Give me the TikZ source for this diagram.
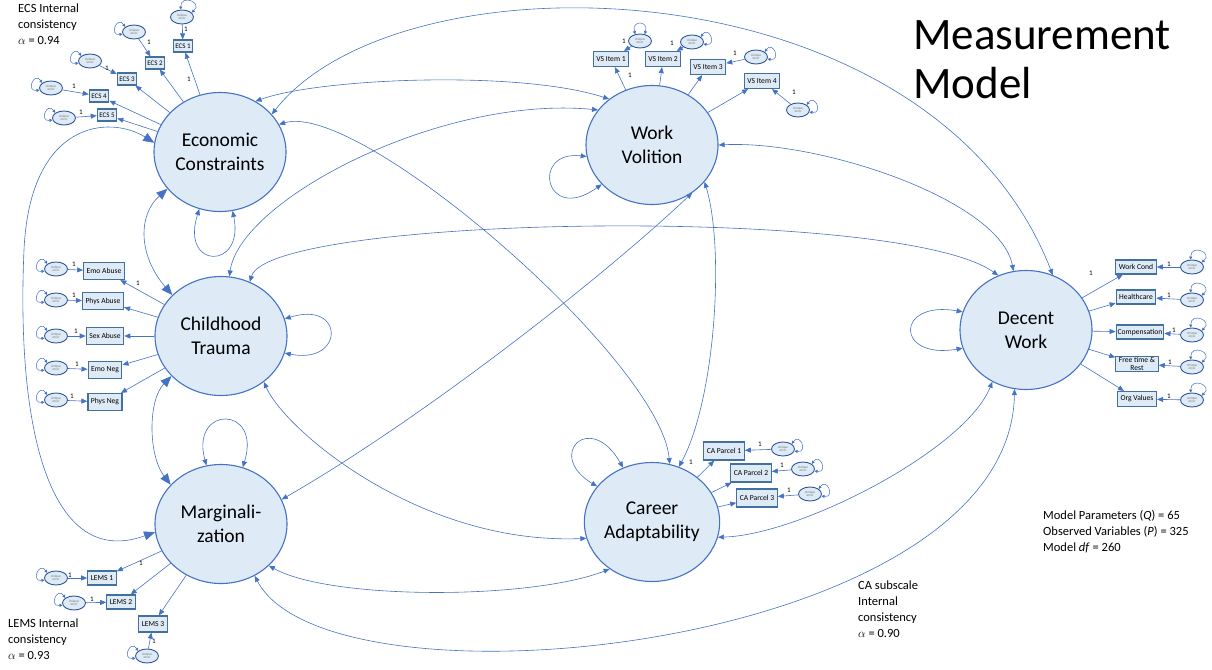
\documentclass[tikz,border=0pt]{standalone}
\usepackage{fontspec}
\setmainfont{Carlito}
\usetikzlibrary{arrows.meta,shapes.geometric}
\definecolor{lineblue}{HTML}{4472C4}
\definecolor{fillblue}{HTML}{DEEBF7}
\definecolor{boxblue}{HTML}{41719C}
\definecolor{errblue}{HTML}{2F5597}
\tikzset{
  latent/.style={ellipse, draw=lineblue, line width=1.1pt, fill=fillblue, minimum width=132pt, minimum height=119pt, inner sep=0pt, align=center, font=\fontsize{19.5}{24}\selectfont},
  ind/.style={rectangle, draw=boxblue, line width=1.2pt, fill=fillblue, minimum height=15pt, inner xsep=3pt, inner ysep=1pt, align=center, font=\fontsize{7.6}{8.4}\selectfont},
  ecsbox/.style={ind, minimum height=12pt, inner xsep=2pt, font=\fontsize{7}{8}\selectfont},
  err/.style={ellipse, draw=errblue, line width=0.9pt, fill=fillblue, minimum width=23pt, minimum height=14pt, inner sep=0pt, align=center, text=black!55, font=\fontsize{3.4}{3.6}\selectfont},
  load/.style={-{Triangle[length=6pt,width=5pt]}, lineblue, line width=0.6pt},
  cov/.style={{Triangle[length=6pt,width=5pt]}-{Triangle[length=6pt,width=5pt]}, lineblue, line width=0.6pt},
  bigcov/.style={{Triangle[length=11pt,width=9pt]}-{Triangle[length=11pt,width=9pt]}, lineblue, line width=0.6pt},
  eloop/.style={{Triangle[length=3pt,width=3pt]}-{Triangle[length=3pt,width=3pt]}, lineblue, line width=0.5pt},
  one/.style={inner sep=0pt, font=\fontsize{7}{7}\selectfont},
  note/.style={anchor=north west, align=left, inner sep=0pt, font=\fontsize{12.5}{16}\selectfont},
  headline/.style={anchor=base west, inner sep=0pt, font=\fontsize{45}{48}\selectfont}
}
\begin{document}
\begin{tikzpicture}[x=1pt,y=-1pt]
\useasboundingbox (0,0) rectangle (1212,669);

% latent factors
\node[latent] (EC) at (220,152) {Economic\\Constraints};
\node[latent] (WV) at (652,145) {Work\\Volition};
\node[latent] (CT) at (221,336) {Childhood\\Trauma};
\node[latent] (MG) at (221,524) {Marginali-\\zation};
\node[latent] (CA) at (652,522) {Career\\Adaptability};
\node[latent] (DW) at (1026,330) {Decent\\Work};

% ECS indicators
\node[ecsbox] (ecs1) at (183,46) {ECS 1};
\node[ecsbox] (ecs2) at (155,63) {ECS 2};
\node[ecsbox] (ecs3) at (127,79) {ECS 3};
\node[ecsbox] (ecs4) at (99,96) {ECS 4};
\node[ecsbox] (ecs5) at (107,115) {ECS 5};
\node[err] (eecs1) at (182,17) {Unique\\error};
\node[err] (eecs2) at (134,32) {Unique\\error};
\node[err] (eecs3) at (90,61) {Unique\\error};
\node[err] (eecs4) at (51,88) {Unique\\error};
\node[err] (eecs5) at (64,118) {Unique\\error};
\draw[load] (EC) -- (ecs1);
\draw[load] (EC) -- (ecs2);
\draw[load] (EC) -- (ecs3);
\draw[load] (EC) -- (ecs4);
\draw[load] (EC) -- (ecs5);
\draw[load] (eecs1) -- (ecs1);
\draw[load] (eecs2) -- (ecs2);
\draw[load] (eecs3) -- (ecs3);
\draw[load] (eecs4) -- (ecs4);
\draw[load] (eecs5) -- (ecs5);
\draw[eloop] (eecs1.100) .. controls +(0,-16) and +(12,-10) .. (eecs1.25);
\draw[eloop] (eecs2.150) .. controls +(-8,-12) and +(-14,2) .. (eecs2.190);
\draw[eloop] (eecs3.150) .. controls +(-8,-12) and +(-14,2) .. (eecs3.190);
\draw[eloop] (eecs4.150) .. controls +(-8,-12) and +(-14,2) .. (eecs4.190);
\draw[eloop] (eecs5.150) .. controls +(-8,-12) and +(-14,2) .. (eecs5.190);
\node[one] (oecs0) at (189,79) {1};
\node[one] (oecs1) at (186,29) {1};
\node[one] (oecs2) at (149,42) {1};
\node[one] (oecs3) at (107,68) {1};
\node[one] (oecs4) at (74,86) {1};
\node[one] (oecs5) at (81,112) {1};

% childhood trauma indicators
\node[ind, minimum height=17pt] (emoab) at (104,271) {Emo Abuse};
\node[ind, minimum height=17pt] (physab) at (103,301) {Phys Abuse};
\node[ind, minimum height=17pt] (sexab) at (105,336) {Sex Abuse};
\node[ind, minimum height=17pt] (emoneg) at (105,370) {Emo Neg};
\node[ind, minimum height=17pt] (physneg) at (105,402) {Phys Neg};
\node[err] (eemoab) at (56,269) {Unique\\error};
\node[err] (ephysab) at (56,300) {Unique\\error};
\node[err] (esexab) at (56,336) {Unique\\error};
\node[err] (eemoneg) at (56,368) {Unique\\error};
\node[err] (ephysneg) at (56,400) {Unique\\error};
\draw[load] (CT) -- (emoab);
\draw[load] (CT) -- (physab);
\draw[load] (CT) -- (sexab);
\draw[load] (CT) -- (emoneg);
\draw[load] (CT) -- (physneg);
\draw[load] (eemoab) -- (emoab);
\draw[load] (ephysab) -- (physab);
\draw[load] (esexab) -- (sexab);
\draw[load] (eemoneg) -- (emoneg);
\draw[load] (ephysneg) -- (physneg);
\draw[eloop] (eemoab.150) .. controls +(-8,-12) and +(-14,2) .. (eemoab.190);
\draw[eloop] (ephysab.150) .. controls +(-8,-12) and +(-14,2) .. (ephysab.190);
\draw[eloop] (esexab.150) .. controls +(-8,-12) and +(-14,2) .. (esexab.190);
\draw[eloop] (eemoneg.150) .. controls +(-8,-12) and +(-14,2) .. (eemoneg.190);
\draw[eloop] (ephysneg.150) .. controls +(-8,-12) and +(-14,2) .. (ephysneg.190);
\node[one] (oct0) at (138,283) {1};
\node[one] (oct1) at (74,264) {1};
\node[one] (oct2) at (74,295) {1};
\node[one] (oct3) at (76,331) {1};
\node[one] (oct4) at (77,364) {1};
\node[one] (oct5) at (72,396) {1};

% work volition indicators
\node[ind] (vs1) at (611,59) {VS Item 1};
\node[ind] (vs2) at (663,59) {VS Item 2};
\node[ind] (vs3) at (708,67) {VS Item 3};
\node[ind] (vs4) at (762,81) {VS Item 4};
\node[err] (evs1) at (640,41) {Unique\\error};
\node[err] (evs2) at (692,42) {Unique\\error};
\node[err] (evs3) at (756,57) {Unique\\error};
\node[err] (evs4) at (798,110) {Unique\\error};
\draw[load] (WV) -- (vs1);
\draw[load] (WV) -- (vs2);
\draw[load] (WV) -- (vs3);
\draw[load] (WV) -- (vs4);
\draw[load] (evs1) -- (vs1);
\draw[load] (evs2) -- (vs2);
\draw[load] (evs3) -- (vs3);
\draw[load] (evs4) -- (vs4);
\draw[eloop] (evs1.125) .. controls +(-4,-14) and +(4,-14) .. (evs1.55);
\draw[eloop] (evs2.30) .. controls +(8,-12) and +(14,2) .. (evs2.-10);
\draw[eloop] (evs3.30) .. controls +(8,-12) and +(14,2) .. (evs3.-10);
\draw[eloop] (evs4.30) .. controls +(8,-12) and +(14,2) .. (evs4.-10);
\node[one] (ovs0) at (630,75) {1};
\node[one] (ovs1) at (624,41) {1};
\node[one] (ovs2) at (672,43) {1};
\node[one] (ovs3) at (735,53) {1};
\node[one] (ovs4) at (794,92) {1};

% decent work indicators
\node[ind, minimum height=14pt] (wcond) at (1136,267) {Work Cond};
\node[ind, minimum height=14pt] (hcare) at (1136,297) {Healthcare};
\node[ind, minimum height=14pt, inner xsep=1.5pt] (comp) at (1140,332) {Compensation};
\node[ind] (ftime) at (1137,364) {Free time \&\\Rest};
\node[ind] (orgval) at (1137,399) {Org Values};
\node[err] (ewcond) at (1192,267) {Unique\\error};
\node[err] (ehcare) at (1192,300) {Unique\\error};
\node[err] (ecomp) at (1192,335) {Unique\\error};
\node[err] (eftime) at (1192,367) {Unique\\error};
\node[err] (eorgval) at (1192,400) {Unique\\error};
\draw[load] (DW) -- (wcond);
\draw[load] (DW) -- (hcare);
\draw[load] (DW) -- (comp);
\draw[load] (DW) -- (ftime);
\draw[load] (DW) -- (orgval);
\draw[load] (ewcond) -- (wcond);
\draw[load] (ehcare) -- (hcare);
\draw[load] (ecomp) -- (comp);
\draw[load] (eftime) -- (ftime);
\draw[load] (eorgval) -- (orgval);
\draw[eloop] (ewcond.100) .. controls +(0,-16) and +(12,-10) .. (ewcond.25);
\draw[eloop] (ehcare.100) .. controls +(0,-16) and +(12,-10) .. (ehcare.25);
\draw[eloop] (ecomp.100) .. controls +(0,-16) and +(12,-10) .. (ecomp.25);
\draw[eloop] (eftime.100) .. controls +(0,-16) and +(12,-10) .. (eftime.25);
\draw[eloop] (eorgval.100) .. controls +(0,-16) and +(12,-10) .. (eorgval.25);
\node[one] (odw0) at (1091,273) {1};
\node[one] (odw1) at (1169,264) {1};
\node[one] (odw2) at (1169,295) {1};
\node[one] (odw3) at (1174,330) {1};
\node[one] (odw4) at (1170,362) {1};
\node[one] (odw5) at (1169,396) {1};

% career adaptability indicators
\node[ind, minimum height=18pt] (cap1) at (724,451) {CA Parcel 1};
\node[ind, minimum height=18pt] (cap2) at (751,473) {CA Parcel 2};
\node[ind, minimum height=18pt] (cap3) at (757,498) {CA Parcel 3};
\node[err] (ecap1) at (783,449) {Unique\\error};
\node[err] (ecap2) at (803,469) {Unique\\error};
\node[err] (ecap3) at (810,494) {Unique\\error};
\draw[load] (CA) -- (cap1);
\draw[load] (CA) -- (cap2);
\draw[load] (CA) -- (cap3);
\draw[load] (ecap1) -- (cap1);
\draw[load] (ecap2) -- (cap2);
\draw[load] (ecap3) -- (cap3);
\draw[eloop] (ecap1.30) .. controls +(8,-12) and +(14,2) .. (ecap1.-10);
\draw[eloop] (ecap2.30) .. controls +(8,-12) and +(14,2) .. (ecap2.-10);
\draw[eloop] (ecap3.30) .. controls +(8,-12) and +(14,2) .. (ecap3.-10);
\node[one] (oca0) at (691,462) {1};
\node[one] (oca1) at (760,444) {1};
\node[one] (oca2) at (782,465) {1};
\node[one] (oca3) at (789,490) {1};

% marginalization indicators
\node[ind, minimum height=14pt] (lems1) at (102,578) {LEMS 1};
\node[ind, minimum height=14pt] (lems2) at (121,602) {LEMS 2};
\node[ind, minimum height=16pt] (lems3) at (153,624) {LEMS 3};
\node[err] (elems1) at (56,578) {Unique\\error};
\node[err] (elems2) at (74,603) {Unique\\error};
\node[err] (elems3) at (147,656) {Unique\\error};
\draw[load] (MG) -- (lems1);
\draw[load] (MG) -- (lems2);
\draw[load] (MG) -- (lems3);
\draw[load] (elems1) -- (lems1);
\draw[load] (elems2) -- (lems2);
\draw[load] (elems3) -- (lems3);
\draw[eloop] (elems1.150) .. controls +(-8,-12) and +(-14,2) .. (elems1.190);
\draw[eloop] (elems2.150) .. controls +(-8,-12) and +(-14,2) .. (elems2.190);
\draw[eloop] (elems3.150) .. controls +(-8,-12) and +(-14,2) .. (elems3.190);
\node[one] (omg0) at (141,563) {1};
\node[one] (omg1) at (70,575) {1};
\node[one] (omg2) at (92,599) {1};
\node[one] (omg3) at (154,641) {1};

% covariances and variances
\draw[cov] (EC.55) .. controls (320,78) and (520,70) .. (WV.133);
\draw[cov] (EC.36) .. controls (400,-50) and (930,-40) .. (DW.64);
\draw[cov] (EC.25) .. controls (360,100) and (660,360) .. (CA.73);
\draw[bigcov] (EC.215) .. controls (138,215) and (138,255) .. (CT.140);
\draw[bigcov] (EC.172) .. controls (110,115) and (30,120) .. (24,250) .. controls (16,430) and (50,570) .. (MG.187);
\draw[cov] (EC.250) .. controls (180,270) and (245,270) .. (EC.282);
\draw[cov] (CT.82) .. controls (240,200) and (440,95) .. (WV.147);
\draw[cov] (CT.62) .. controls (270,215) and (900,205) .. (DW.117);
\draw[cov] (CT.313) .. controls (285,430) and (420,545) .. (CA.194);
\draw[bigcov] (CT.219) .. controls (148,400) and (148,455) .. (MG.142);
\draw[cov] (CT.15) .. controls (345,300) and (345,365) .. (CT.-15);
\draw[cov] (WV.310) .. controls (600,280) and (420,420) .. (MG.22);
\draw[cov] (MG.319) .. controls (330,600) and (530,600) .. (CA.228);
\draw[cov] (MG.303) .. controls (330,720) and (1010,650) .. (DW.259);
\draw[cov] (MG.104) .. controls (190,405) and (262,405) .. (MG.69);
\draw[cov] (WV.325) .. controls (725,250) and (715,400) .. (CA.64);
\draw[cov] (WV.0) .. controls (820,140) and (1000,200) .. (DW.102);
\draw[cov] (WV.190) .. controls (530,150) and (545,225) .. (WV.218);
\draw[cov] (CA.347) .. controls (800,535) and (965,450) .. (DW.237);
\draw[cov] (CA.147) .. controls (545,455) and (590,410) .. (CA.118);
\draw[cov] (DW.164) .. controls (895,300) and (895,360) .. (DW.196);

% notes
\node[headline] (title1) at (913,50) {Measurement};
\node[headline] (title2) at (913,98) {Model};
\node[note] (ecsnote) at (18,4) {ECS Internal\\consistency\\$\alpha$ = 0.94};
\node[note] (lemsnote) at (8,619) {LEMS Internal\\consistency\\$\alpha$ = 0.93};
\node[note] (canote) at (858,581) {CA subscale\\Internal\\consistency\\$\alpha$ = 0.90};
\node[note] (fitnote) at (1043,510) {Model Parameters (\textit{Q}) = 65\\Observed Variables (\textit{P}) = 325\\Model \textit{df} = 260};
\end{tikzpicture}
\end{document}
